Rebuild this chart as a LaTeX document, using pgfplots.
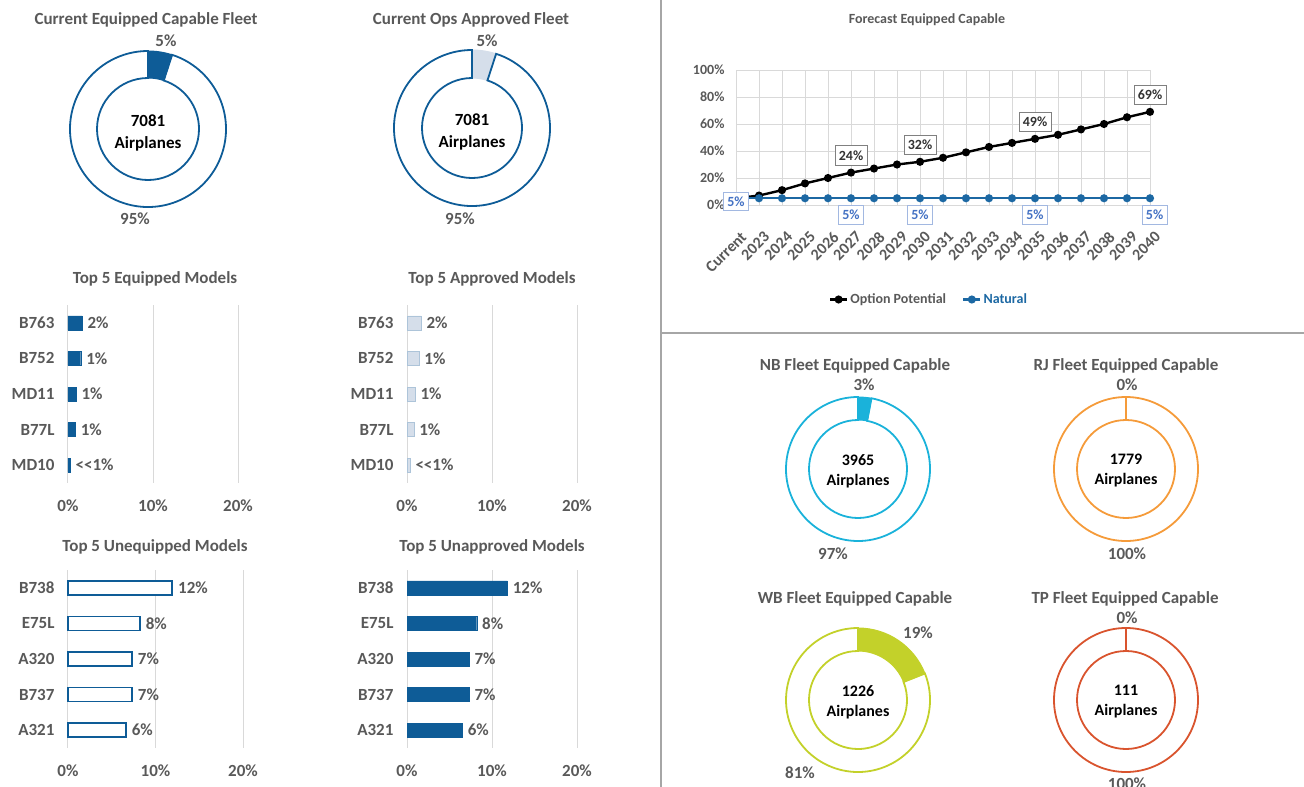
\documentclass[border=0pt]{standalone}
\usepackage{fontspec}
\setmainfont{Carlito}
\usepackage{pgfplots}
\pgfplotsset{compat=1.18}

\definecolor{txt}{HTML}{595959}
\definecolor{dblue}{HTML}{0E5C97}
\definecolor{lblue}{HTML}{D5DEEA}
\definecolor{gridc}{HTML}{D9D9D9}
\definecolor{natline}{HTML}{1C68A3}
\definecolor{natlab}{HTML}{4472C4}
\definecolor{nbc}{HTML}{1AB2DA}
\definecolor{rjc}{HTML}{F59B3A}
\definecolor{wbc}{HTML}{C3D12A}
\definecolor{tpc}{HTML}{D9542E}
\definecolor{sep}{HTML}{A6A6A6}

\newcommand{\fbig}{\fontsize{17}{20}\selectfont\bfseries}
\newcommand{\fmid}{\fontsize{16}{19}\selectfont\bfseries}
\newcommand{\fsml}{\fontsize{14}{17}\selectfont\bfseries}

% one donut ring: value, outer radius, inner radius, ring colour, wedge colour
\newcommand{\ring}[5]{%
  \ifdim#1pt>0pt
  \filldraw[fill=#5, draw=#5, line width=1pt, shift={(axis cs:0,0)}]
    (90:#3pt) -- (90:#2pt) arc[start angle=90, end angle={90-3.6*#1}, radius=#2pt]
    -- ({90-3.6*#1}:#3pt) arc[start angle={90-3.6*#1}, end angle=90, radius=#3pt] -- cycle;
  \fi
  \draw[#4, line width=1.8pt, shift={(axis cs:0,0)}]
    ({90-3.6*#1}:#3pt) -- ({90-3.6*#1}:#2pt)
    arc[start angle={90-3.6*#1}, end angle=-270, radius=#2pt]
    -- (-270:#3pt) arc[start angle=-270, end angle={90-3.6*#1}, radius=#3pt] -- cycle;
}

\pgfplotsset{
  donut/.style={hide axis, scale only axis, x=1pt, y=1pt,
    xmin=-80, xmax=80, ymin=-80, ymax=80, clip=false, anchor=center},
  hbar/.style={xbar, scale only axis, height=178pt, anchor=north west,
    xmin=0, xmax=20, ymin=-0.5, ymax=4.5, y dir=reverse,
    ytick={0,...,4}, xtick={0,10,20}, xticklabels={0\%,10\%,20\%},
    xmajorgrids, major grid style={gridc, line width=1pt},
    axis line style={draw=none}, major tick length=0pt,
    bar width=14pt, bar shift=0pt, clip=false,
    ticklabel style={font=\fbig, text=txt},
    yticklabel style={xshift=-10pt}, xticklabel style={yshift=-13pt},
    nodes near coords, point meta=explicit symbolic,
    nodes near coords style={font=\fbig, text=txt, anchor=west, xshift=2pt}},
}

\begin{document}
\begin{tikzpicture}
\useasboundingbox (0pt,0pt) rectangle (1304pt,-787pt);

% ---------- top donuts ----------
\begin{axis}[donut, at={(148pt,-129pt)}]
  \ring{5}{78}{51}{dblue}{dblue}
  \node[font=\fbig, text=txt] at (axis cs:-2,109) {Current Equipped Capable Fleet};
  \node[font=\fbig, text=txt] at (axis cs:18,88) {5\%};
  \node[font=\fbig, text=txt] at (axis cs:-13,-90) {95\%};
  \node[font=\fbig, align=center] at (axis cs:0,-4) {7081\\[2pt]Airplanes};
\end{axis}

\begin{axis}[donut, at={(472pt,-128pt)}]
  \ring{5}{78}{50}{dblue}{lblue}
  \node[font=\fbig, text=txt] at (axis cs:-1,108) {Current Ops Approved Fleet};
  \node[font=\fbig, text=txt] at (axis cs:15,87) {5\%};
  \node[font=\fbig, text=txt] at (axis cs:-12,-91) {95\%};
  \node[font=\fbig, align=center] at (axis cs:0,-4) {7081\\[2pt]Airplanes};
\end{axis}

% ---------- bar charts ----------
\node[font=\fbig, text=txt] at (155pt,-279pt) {Top 5 Equipped Models};
\begin{axis}[hbar, at={(68pt,-305pt)}, width=170pt,
  yticklabels={B763,B752,MD11,B77L,MD10}]
  \addplot[fill=dblue, draw=dblue] coordinates {
    (1.65,0) [2\%] (1.5,1) [1\%] (0.95,2) [1\%] (0.85,3) [1\%] (0.25,4) [{<}{<}1\%]};
\end{axis}

\node[font=\fbig, text=txt] at (492pt,-279pt) {Top 5 Approved Models};
\begin{axis}[hbar, at={(407pt,-305pt)}, width=170pt,
  yticklabels={B763,B752,MD11,B77L,MD10}]
  \addplot[fill=lblue, draw=lblue!80!dblue] coordinates {
    (1.65,0) [2\%] (1.4,1) [1\%] (0.95,2) [1\%] (0.8,3) [1\%] (0.35,4) [{<}{<}1\%]};
\end{axis}

\node[font=\fbig, text=txt] at (155pt,-547pt) {Top 5 Unequipped Models};
\begin{axis}[hbar, at={(68pt,-570pt)}, width=175pt,
  yticklabels={B738,E75L,A320,B737,A321}]
  \addplot[fill=white, draw=dblue, line width=1.5pt] coordinates {
    (11.9,0) [12\%] (8.2,1) [8\%] (7.3,2) [7\%] (7.3,3) [7\%] (6.6,4) [6\%]};
\end{axis}

\node[font=\fbig, text=txt] at (492pt,-547pt) {Top 5 Unapproved Models};
\begin{axis}[hbar, at={(407pt,-570pt)}, width=170pt,
  yticklabels={B738,E75L,A320,B737,A321}]
  \addplot[fill=dblue, draw=dblue] coordinates {
    (11.8,0) [12\%] (8.2,1) [8\%] (7.3,2) [7\%] (7.3,3) [7\%] (6.5,4) [6\%]};
\end{axis}

% ---------- forecast ----------
\node[font=\fsml, text=txt] at (927pt,-20pt) {Forecast Equipped Capable};
\begin{axis}[at={(736pt,-205pt)}, anchor=south west, scale only axis,
  width=414pt, height=135pt, xmin=0, xmax=18, ymin=0, ymax=100,
  xtick={0,...,18},
  xticklabels={Current,2023,2024,2025,2026,2027,2028,2029,2030,2031,2032,2033,2034,2035,2036,2037,2038,2039,2040},
  ytick={0,20,40,60,80,100}, yticklabels={0\%,20\%,40\%,60\%,80\%,100\%},
  grid=major, major grid style={gridc, line width=0.8pt},
  axis line style={draw=none}, major tick length=0pt, clip=false,
  ticklabel style={font=\fsml, text=txt},
  yticklabel style={xshift=-8pt},
  xticklabel style={font=\fmid, xshift=4pt, yshift=-24pt, rotate=45, anchor=north east, inner sep=1pt},
  legend style={at={(0.466,-0.70)}, anchor=center, draw=none, fill=none,
    legend columns=2, font=\fsml, text=txt,
    /tikz/every even column/.append style={column sep=14pt}},
  legend cell align=left]
  \addplot[black, line width=2.4pt, mark=*, mark size=2.8pt] coordinates {
    (0,5) (1,7) (2,11) (3,16) (4,20) (5,24) (6,27) (7,30) (8,32) (9,35)
    (10,39) (11,43) (12,46) (13,49) (14,52) (15,56) (16,60) (17,65) (18,69)};
  \addlegendentry{Option Potential}
  \addplot[natline, line width=2.4pt, mark=*, mark size=2.8pt] coordinates {
    (0,5) (1,5) (2,5) (3,5) (4,5) (5,5) (6,5) (7,5) (8,5) (9,5)
    (10,5) (11,5) (12,5) (13,5) (14,5) (15,5) (16,5) (17,5) (18,5)};
  \addlegendentry{\textcolor{natline}{Natural}}
  \addplot[forget plot, only marks, mark=none, nodes near coords, point meta=explicit symbolic,
    nodes near coords style={draw=gray, fill=white, font=\fsml, text=black!80,
      anchor=south, yshift=7pt, inner xsep=4pt, inner ysep=5pt}]
    coordinates {(5,24) [24\%] (8,32) [32\%] (13,49) [49\%] (18,69) [69\%]};
  \addplot[forget plot, only marks, mark=none, nodes near coords, point meta=explicit symbolic,
    nodes near coords style={draw=natlab!50, fill=white, font=\fsml, text=natlab,
      anchor=north, yshift=-7pt, inner xsep=4pt, inner ysep=4.5pt}]
    coordinates {(5,5) [5\%] (8,5) [5\%] (13,5) [5\%] (18.2,5) [5\%]};
  \addplot[forget plot, only marks, mark=none, nodes near coords, point meta=explicit symbolic,
    nodes near coords style={draw=natlab!50, fill=white, font=\fsml, text=natlab,
      anchor=center, yshift=-3pt, inner xsep=4pt, inner ysep=4.5pt}]
    coordinates {(0,5) [5\%]};
\end{axis}

% ---------- fleet donuts ----------
\begin{axis}[donut, at={(858pt,-469pt)}]
  \ring{3}{72}{49}{nbc}{nbc}
  \node[font=\fbig, text=txt] at (axis cs:-3,103) {NB Fleet Equipped Capable};
  \node[font=\fbig, text=txt] at (axis cs:6,84) {3\%};
  \node[font=\fbig, text=txt] at (axis cs:-25,-85) {97\%};
  \node[font=\fmid, align=center] at (axis cs:0,-2) {3965\\[1pt]Airplanes};
\end{axis}

\begin{axis}[donut, at={(1126pt,-469pt)}]
  \ring{0}{72}{49}{rjc}{rjc}
  \node[font=\fbig, text=txt] at (axis cs:0,103) {RJ Fleet Equipped Capable};
  \node[font=\fbig, text=txt] at (axis cs:1,84) {0\%};
  \node[font=\fbig, text=txt] at (axis cs:1,-85) {100\%};
  \node[font=\fmid, align=center] at (axis cs:0,-2) {1779\\[1pt]Airplanes};
\end{axis}

\begin{axis}[donut, at={(858pt,-700pt)}]
  \ring{19}{72}{49}{wbc}{wbc}
  \node[font=\fbig, text=txt] at (axis cs:-3,101) {WB Fleet Equipped Capable};
  \node[font=\fbig, text=txt] at (axis cs:60,67) {19\%};
  \node[font=\fbig, text=txt] at (axis cs:-58,-73) {81\%};
  \node[font=\fmid, align=center] at (axis cs:0,-2) {1226\\[1pt]Airplanes};
\end{axis}

\begin{axis}[donut, at={(1126pt,-700pt)}]
  \ring{0}{72}{49}{tpc}{tpc}
  \node[font=\fbig, text=txt] at (axis cs:-1,101) {TP Fleet Equipped Capable};
  \node[font=\fbig, text=txt] at (axis cs:1,82) {0\%};
  \node[font=\fbig, text=txt] at (axis cs:1,-84) {100\%};
  \node[font=\fmid, align=center] at (axis cs:0,-2) {111\\[1pt]Airplanes};
\end{axis}

% panel separators
\draw[sep, line width=2pt] (661pt,0pt) -- (661pt,-787pt);
\draw[sep, line width=2pt] (661pt,-333pt) -- (1304pt,-333pt);
\end{tikzpicture}
\end{document}
